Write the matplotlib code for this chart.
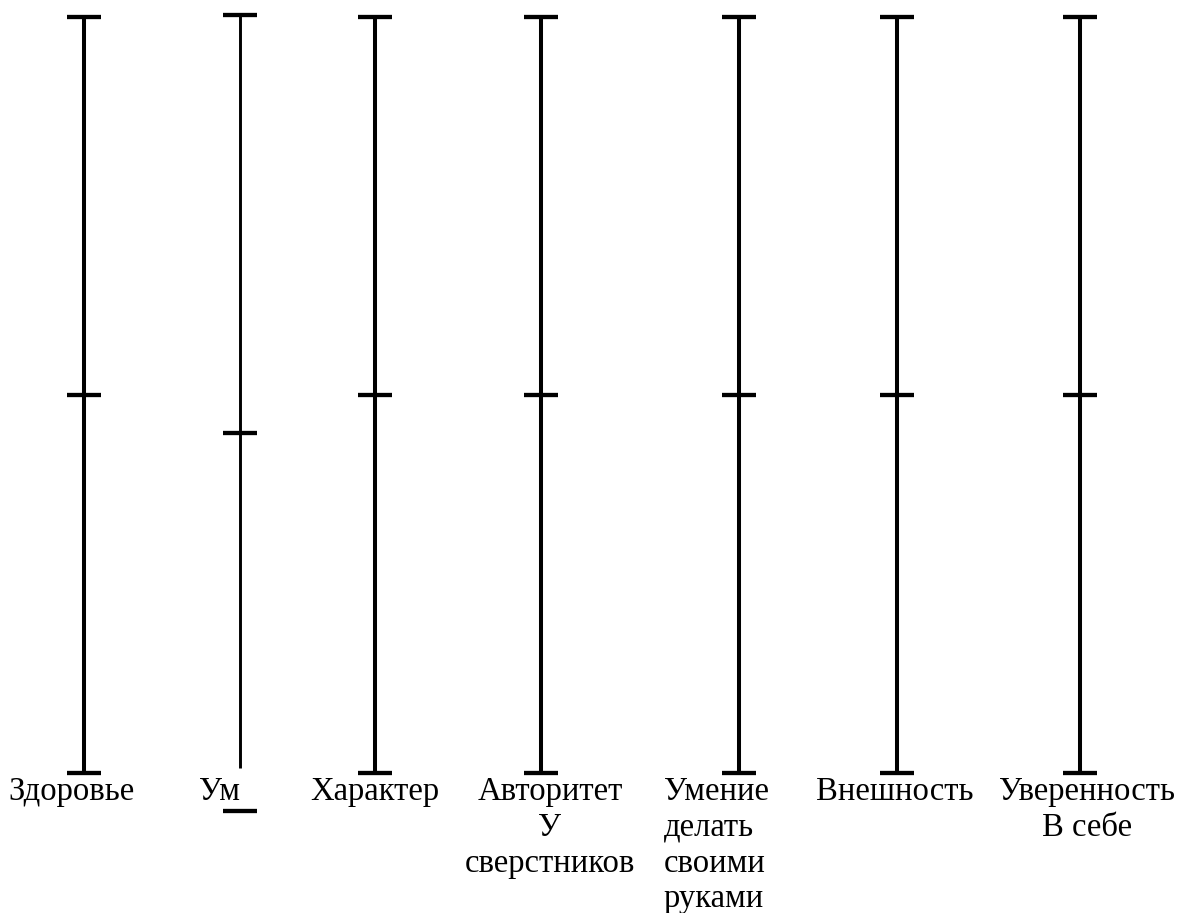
import matplotlib
matplotlib.use("Agg")
import matplotlib.pyplot as plt

# scale values: each line runs from 0 (bottom) to 100 (top), the mark is the rating
categories = [
    "Здоровье",
    "Ум",
    "Характер",
    "Авторитет\nУ\nсверстников",
    "Умение\nделать\nсвоими\nруками",
    "Внешность",
    "Уверенность\nВ себе",
]
marks = [50, 45, 50, 50, 50, 50, 50]
line_top = [100, 100.3, 100, 100, 100, 100, 100]
line_bottom = [0, 0.7, 0, 0, 0, 0, 0]
bottom_tick = [0, -5.0, 0, 0, 0, 0, 0]

# layout (pixels across the sheet)
line_x = [84, 240, 375, 541, 739, 897, 1080]
label_x = [72, 220, 375, 550, 664, 895, 1087]
label_ha = ["center", "center", "center", "center", "left", "center", "center"]
line_w = [2.9, 2.1, 2.9, 2.9, 2.9, 2.9, 2.9]
TICK_HALF = 17

plt.rcParams["font.family"] = ["Liberation Serif", "DejaVu Serif"]

fig = plt.figure(figsize=(11.78, 9.13), dpi=100)
ax = fig.add_axes([0, 0, 1, 1])
ax.set_xlim(0, 1178)
ax.set_ylim(-18.52, 102.25)
ax.axis("off")

for i, name in enumerate(categories):
    x = line_x[i]
    ax.vlines(x, line_bottom[i], line_top[i], color="black", lw=line_w[i])
    for v in (line_top[i], marks[i], bottom_tick[i]):
        ax.hlines(v, x - TICK_HALF, x + TICK_HALF, color="black", lw=3.1)
    ax.text(label_x[i], -0.5, name, ha=label_ha[i], va="top",
            multialignment=label_ha[i], fontsize=23.5, linespacing=1.22)

fig.savefig("out.png", dpi=100, facecolor="white")
